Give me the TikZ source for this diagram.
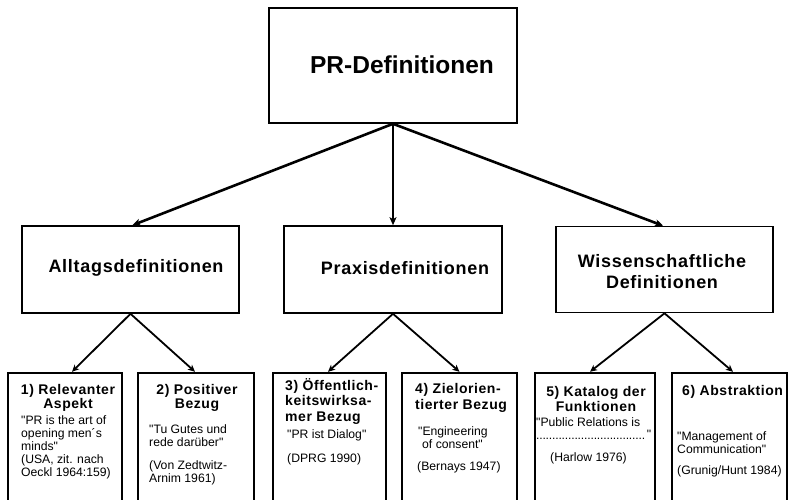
\documentclass[tikz,border=0pt]{standalone}
\usepackage{fontspec}
\setmainfont{Liberation Sans}
\newfontfamily\spaced[LetterSpace=4]{Liberation Sans}
\newfontfamily\plainsans{Liberation Sans}
\usetikzlibrary{arrows.meta}
\newcommand{\tightdots}{\leaders\hbox to 3.2pt{\hss.\hss}\hfill}
\tikzset{
  box/.style={draw=black, line width=1.6pt, inner sep=0pt},
  lowbox/.style={draw=black, line width=2.4pt, inner sep=0pt, minimum height=147pt},
  bigarrow/.style={line width=2.6pt, -{Stealth[length=8pt,width=7pt,inset=2pt]}},
  smallarrow/.style={line width=1.8pt, -{Stealth[length=7pt,width=6.5pt,inset=2pt]}},
  toptext/.style={font=\bfseries\fontsize{24.5}{26}\selectfont, inner sep=0pt},
  midtext/.style={font=\spaced\bfseries\fontsize{18}{21}\selectfont, inner sep=0pt, align=center},
  headc/.style={font=\spaced\bfseries\fontsize{14}{14.5}\selectfont, inner sep=0pt, align=center},
  headl/.style={font=\spaced\bfseries\fontsize{14}{15.5}\selectfont, inner sep=0pt, align=left, anchor=west},
  body/.style={font=\plainsans\fontsize{12.2}{13}\selectfont, inner sep=0pt, align=left, anchor=west},
}
\begin{document}
\begin{tikzpicture}[x=1pt,y=-1pt]
\useasboundingbox (0,0) rectangle (789,500);
\clip (0,0) rectangle (789,500);
\fill[white] (0,0) rectangle (789,500);

% top
\node[box, minimum width=248pt, minimum height=115pt] (top) at (393,65.5) {};
\node[toptext] (toplabel) at (402,65) {PR-Definitionen};

% middle level
\node[box, minimum width=217pt, minimum height=87pt] (alltag) at (130.5,269.5) {};
\node[box, minimum width=218pt, minimum height=87pt] (praxis) at (393,269.5) {};
\node[box, minimum width=217pt, minimum height=86pt] (wiss) at (664.5,269.5) {};
\node[midtext] (alltaglabel) at (136,268) {Alltagsdefinitionen};
\node[midtext] (praxislabel) at (405,268) {Praxisdefinitionen};
\node[midtext] (wisslabel) at (662,271.5) {Wissenschaftliche\\Definitionen};

\draw[bigarrow] (top.south) -- ([xshift=2pt]alltag.north);
\draw[bigarrow] (top.south) -- (praxis.north);
\draw[bigarrow] (top.south) -- ([xshift=-1.5pt]wiss.north);

% lower level
\node[lowbox, minimum width=114pt] (a) at (65,446.5) {};
\node[lowbox, minimum width=116pt] (b) at (196,446.5) {};
\node[lowbox, minimum width=113pt] (c) at (329.5,446.5) {};
\node[lowbox, minimum width=115pt] (d) at (459.5,446.5) {};
\node[lowbox, minimum width=120pt] (e) at (595,446.5) {};
\node[lowbox, minimum width=115pt] (f) at (729.5,446.5) {};

\draw[smallarrow] (alltag.south) -- ([xshift=7pt]a.north);
\draw[smallarrow] (alltag.south) -- ([xshift=-1pt]b.north);
\draw[smallarrow] (praxis.south) -- ([xshift=-1.5pt]c.north);
\draw[smallarrow] (praxis.south) -- (d.north);
\draw[smallarrow] (wiss.south) -- ([xshift=-5pt]e.north);
\draw[smallarrow] (wiss.south) -- ([xshift=3.5pt]f.north);

% box a
\node[headc] (ah) at (68,398) {1) Relevanter\\Aspekt};
\node[body] (ab) at (21,447) {"PR is the art of\\opening men´s\\minds"\\(USA, zit. nach\\Oeckl 1964:159)};
% box b
\node[headc] (bh) at (197,398) {2) Positiver\\Bezug};
\node[body] (bb1) at (149,436) {"Tu Gutes und\\rede darüber"};
\node[body] (bb2) at (149,473) {(Von Zedtwitz-\\Arnim 1961)};
% box c
\node[headl] (ch) at (285,401.5) {3) Öffentlich-\\keitswirksa-\\mer Bezug};
\node[body] (cb1) at (287,435) {"PR ist Dialog"};
\node[body] (cb2) at (287,459) {(DPRG 1990)};
% box d
\node[headl, font=\spaced\bfseries\fontsize{14}{16}\selectfont] (dh) at (415,398) {4) Zielorien-\\tierter Bezug};
\node[body] (db1) at (418,437.5) {"Engineering\\\hspace*{4pt}of consent"};
\node[body] (db2) at (417,467) {(Bernays 1947)};
% box e
\node[headc] (eh) at (596,399) {5) Katalog der\\Funktionen};
\node[body] (eb1) at (536,429) {"Public Relations is\\\makebox[115pt][l]{\tightdots\raisebox{1pt}{"}}};
\node[body] (eb2) at (550,458) {(Harlow 1976)};
% box f
\node[headl] (fh) at (682,392) {6) Abstraktion};
\node[body] (fb1) at (677,443) {"Management of\\Communication"};
\node[body] (fb2) at (677,471) {(Grunig/Hunt 1984)};
\end{tikzpicture}
\end{document}
